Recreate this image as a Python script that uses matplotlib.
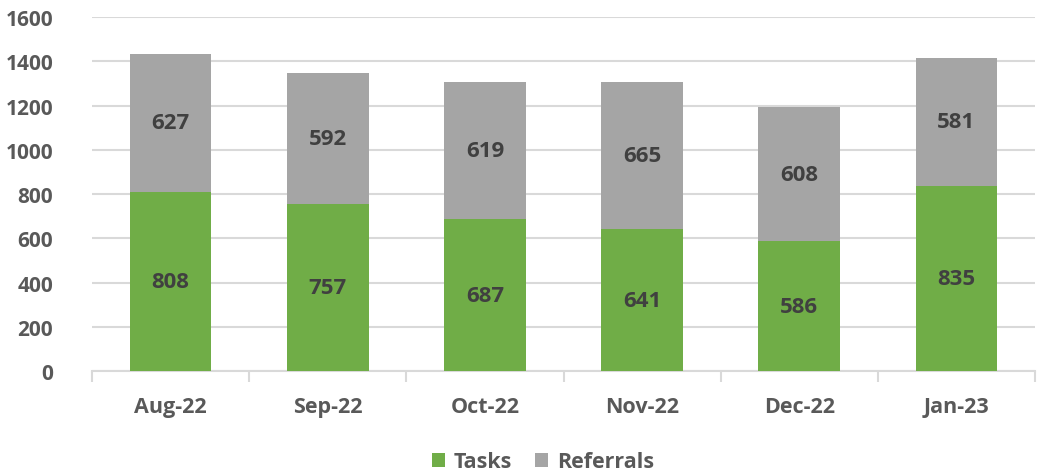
import matplotlib.pyplot as plt
import numpy as np

months = ["Aug-22", "Sep-22", "Oct-22", "Nov-22", "Dec-22", "Jan-23"]
tasks = [808, 757, 687, 641, 586, 835]
referrals = [627, 592, 619, 665, 608, 581]

green = "#70AD47"
gray = "#A5A5A5"
text_col = "#595959"
label_col = "#404040"
grid_col = "#D9D9D9"

plt.rcParams['font.family'] = ['Open Sans', 'DejaVu Sans']

fig = plt.figure(figsize=(10.45, 4.77), dpi=100)
ax = fig.add_axes([92 / 1045, 1 - 372 / 477, (1035 - 92) / 1045, (372 - 18) / 477])

x = np.arange(len(months))
w = 0.52
b1 = ax.bar(x, tasks, w, color=green, label="Tasks", zorder=3)
b2 = ax.bar(x, referrals, w, bottom=tasks, color=gray, label="Referrals", zorder=3)

for xi, t, r in zip(x, tasks, referrals):
    ax.text(xi, t / 2, str(t), ha="center", va="center", fontsize=16,
            fontweight="bold", color=label_col, zorder=4)
    ax.text(xi, t + r / 2, str(r), ha="center", va="center", fontsize=16,
            fontweight="bold", color=label_col, zorder=4)

ax.set_xlim(-0.5, len(months) - 0.5)
ax.set_ylim(0, 1600)
ax.set_yticks(range(0, 1601, 200))
ax.yaxis.grid(True, color=grid_col, linewidth=1.5, zorder=0)
ax.tick_params(axis="y", length=0, pad=28, labelsize=15, labelcolor=text_col)
for lab in ax.get_yticklabels():
    lab.set_fontweight("bold")

ax.set_xticks(x)
ax.set_xticklabels(months, fontsize=15.5, fontweight="bold", color=text_col)
ax.tick_params(axis="x", length=0, pad=18)
ax.set_xticks(np.arange(-0.5, len(months)), minor=True)
ax.tick_params(axis="x", which="minor", length=8, width=1.5, color=grid_col)

for s in ["top", "right", "left"]:
    ax.spines[s].set_visible(False)
ax.spines["bottom"].set_color(grid_col)
ax.spines["bottom"].set_linewidth(1.5)

leg = fig.legend(handles=[b1, b2], labels=["Tasks", "Referrals"], loc="center",
                 bbox_to_anchor=(543 / 1045, 1 - 463 / 477), ncol=2, frameon=False,
                 prop={"size": 15.5, "weight": "bold"}, handlelength=0.6,
                 handleheight=0.6, columnspacing=1.1, handletextpad=0.4)
for t in leg.get_texts():
    t.set_color(text_col)

fig.savefig("out.png", dpi=100)
